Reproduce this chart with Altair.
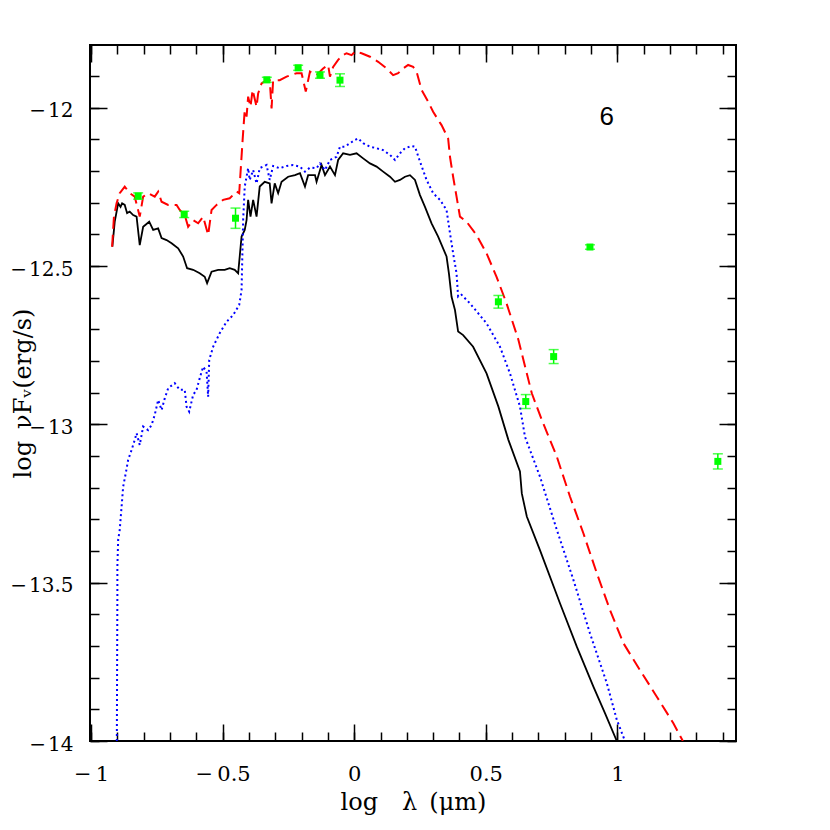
import altair as alt
import pandas as pd

# ---------------- data ----------------
# black solid model
blk_x = [-0.919, -0.910, -0.897, -0.888, -0.882, -0.872, -0.863, -0.853, -0.840, -0.827,
         -0.815, -0.802, -0.779, -0.764, -0.745, -0.732, -0.713, -0.694, -0.669, -0.650,
         -0.635, -0.612, -0.587, -0.568, -0.559, -0.542, -0.517, -0.492, -0.473, -0.454,
         -0.441, -0.428, -0.416, -0.409, -0.403, -0.394, -0.384, -0.371, -0.359, -0.340,
         -0.321, -0.314, -0.302, -0.289, -0.276, -0.251, -0.225, -0.206, -0.187, -0.175,
         -0.149, -0.143, -0.124, -0.111, -0.092, -0.073, -0.061, -0.042, -0.016, 0.009,
         0.034, 0.060, 0.085, 0.110, 0.136, 0.155, 0.174, 0.193, 0.212, 0.231,
         0.250, 0.269, 0.294, 0.319, 0.351, 0.360, 0.370, 0.383, 0.395, 0.414,
         0.452, 0.503, 0.548, 0.586, 0.630, 0.637, 0.656, 0.706, 0.782, 0.846,
         0.909, 0.953, 0.998]
blk_y = [-12.439, -12.360, -12.302, -12.313, -12.302, -12.307, -12.333, -12.328, -12.339, -12.344,
         -12.434, -12.376, -12.360, -12.386, -12.381, -12.412, -12.418, -12.428, -12.444, -12.470,
         -12.507, -12.512, -12.523, -12.534, -12.554, -12.518, -12.512, -12.512, -12.507, -12.512,
         -12.523, -12.407, -12.386, -12.355, -12.291, -12.344, -12.291, -12.344, -12.249, -12.234,
         -12.239, -12.302, -12.239, -12.270, -12.234, -12.218, -12.213, -12.207, -12.249, -12.213,
         -12.213, -12.234, -12.181, -12.213, -12.186, -12.213, -12.165, -12.144, -12.149, -12.144,
         -12.160, -12.176, -12.186, -12.202, -12.218, -12.234, -12.228, -12.218, -12.213, -12.228,
         -12.276, -12.313, -12.365, -12.407, -12.470, -12.523, -12.597, -12.639, -12.707, -12.718,
         -12.755, -12.839, -12.944, -13.049, -13.149, -13.218, -13.291, -13.397, -13.565, -13.702,
         -13.828, -13.912, -14.0]

# blue dotted model
blu_x = [-0.902, -0.900, -0.900, -0.897, -0.891, -0.884, -0.878, -0.868, -0.859, -0.846,
         -0.834, -0.827, -0.815, -0.802, -0.783, -0.770, -0.758, -0.745, -0.732, -0.720,
         -0.707, -0.682, -0.663, -0.644, -0.637, -0.627, -0.612, -0.599, -0.587, -0.574,
         -0.561, -0.555, -0.551, -0.536, -0.511, -0.485, -0.460, -0.437, -0.428, -0.422,
         -0.416, -0.403, -0.397, -0.384, -0.371, -0.359, -0.333, -0.321, -0.308, -0.283,
         -0.257, -0.232, -0.206, -0.187, -0.168, -0.143, -0.130, -0.111, -0.092, -0.067,
         -0.054, -0.035, -0.016, 0.003, 0.015, 0.034, 0.060, 0.085, 0.110, 0.136,
         0.155, 0.174, 0.193, 0.218, 0.231, 0.250, 0.275, 0.300, 0.326, 0.351,
         0.364, 0.376, 0.389, 0.395, 0.408, 0.440, 0.503, 0.554, 0.592, 0.630,
         0.649, 0.706, 0.770, 0.833, 0.896, 0.960, 0.998, 1.029]
blu_y = [-14.0, -13.544, -13.449, -13.365, -13.333, -13.260, -13.197, -13.154, -13.112, -13.081,
         -13.049, -13.028, -13.065, -13.007, -13.018, -13.002, -12.970, -12.923, -12.955, -12.918,
         -12.886, -12.870, -12.891, -12.891, -12.944, -12.960, -12.907, -12.891, -12.854, -12.818,
         -12.834, -12.913, -12.797, -12.755, -12.712, -12.676, -12.655, -12.623, -12.576, -12.355,
         -12.249, -12.191, -12.228, -12.197, -12.239, -12.191, -12.181, -12.228, -12.184, -12.191,
         -12.184, -12.181, -12.186, -12.202, -12.189, -12.191, -12.176, -12.197, -12.165, -12.155,
         -12.123, -12.123, -12.112, -12.102, -12.097, -12.112, -12.123, -12.128, -12.134, -12.149,
         -12.165, -12.144, -12.128, -12.121, -12.123, -12.170, -12.228, -12.270, -12.291, -12.323,
         -12.396, -12.460, -12.523, -12.597, -12.591, -12.618, -12.681, -12.755, -12.839, -12.944,
         -13.039, -13.165, -13.333, -13.491, -13.660, -13.817, -13.933, -14.0]

# red dashed model
red_x = [-0.920, -0.913, -0.903, -0.891, -0.872, -0.853, -0.834, -0.815, -0.802, -0.783,
         -0.758, -0.745, -0.732, -0.707, -0.675, -0.663, -0.644, -0.631, -0.612, -0.593,
         -0.574, -0.555, -0.542, -0.523, -0.498, -0.473, -0.447, -0.437, -0.424, -0.416,
         -0.409, -0.403, -0.394, -0.386, -0.371, -0.365, -0.352, -0.333, -0.321, -0.314,
         -0.308, -0.283, -0.257, -0.219, -0.200, -0.184, -0.168, -0.143, -0.118, -0.099,
         -0.092, -0.080, -0.061, -0.042, -0.029, -0.010, 0.003, 0.028, 0.060, 0.091,
         0.123, 0.148, 0.167, 0.186, 0.205, 0.224, 0.237, 0.256, 0.281, 0.300,
         0.332, 0.357, 0.364, 0.376, 0.389, 0.402, 0.427, 0.465, 0.503, 0.541,
         0.579, 0.624, 0.675, 0.713, 0.770, 0.820, 0.871, 0.922, 0.972, 1.023,
         1.086, 1.150, 1.213, 1.249]
red_y = [-12.439, -12.344, -12.302, -12.270, -12.249, -12.270, -12.281, -12.344, -12.281, -12.270,
         -12.281, -12.265, -12.297, -12.307, -12.307, -12.323, -12.339, -12.376, -12.355, -12.365,
         -12.344, -12.402, -12.323, -12.307, -12.291, -12.286, -12.265, -12.270, -12.102, -12.007,
         -12.028, -11.965, -11.997, -11.944, -11.997, -11.955, -11.923, -11.913, -11.913, -12.002,
         -11.913, -11.913, -11.902, -11.891, -11.891, -11.949, -11.886, -11.897, -11.876, -11.865,
         -11.902, -11.871, -11.849, -11.834, -11.828, -11.834, -11.823, -11.828, -11.839, -11.855,
         -11.876, -11.897, -11.891, -11.876, -11.865, -11.871, -11.886, -11.944, -11.981, -12.013,
         -12.055, -12.097, -12.155, -12.218, -12.281, -12.344, -12.360, -12.402, -12.460, -12.534,
         -12.618, -12.733, -12.902, -12.986, -13.102, -13.228, -13.344, -13.470, -13.586, -13.691,
         -13.776, -13.860, -13.944, -14.0]

# observed photometry (green squares with error bars)
obs_x = [-0.821, -0.646, -0.451, -0.332, -0.213, -0.130, -0.054, 0.548, 0.652, 0.758, 0.896, 1.382]
obs_y = [-12.279, -12.337, -12.349, -11.912, -11.874, -11.897, -11.913, -12.613, -12.928, -12.786, -12.440, -13.117]
obs_e = [0.010, 0.010, 0.032, 0.008, 0.008, 0.010, 0.020, 0.020, 0.022, 0.022, 0.007, 0.024]

panel_label = "6"
panel_x = [0.960]
panel_y = [-12.055]

x_major = [-1, -0.5, 0, 0.5, 1]
x_minor = [round(-1 + 0.1 * i, 1) for i in range(25)]
y_major = [-14, -13.5, -13, -12.5, -12]
y_minor = [round(-14 + 0.1 * i, 1) for i in range(22)]

x_domain = [-1.004, 1.451]
y_domain = [-14.0, -11.802]

# ---------------- tables ----------------
def curve(xs, ys):
    return pd.DataFrame({"x": xs, "y": ys, "i": list(range(len(xs)))})

df_blk = curve(blk_x, blk_y)
df_blu = curve(blu_x, blu_y)
df_red = curve(red_x, red_y)
df_obs = pd.DataFrame({"x": obs_x, "y": obs_y, "e": obs_e})
df_obs["lo"] = df_obs["y"] - df_obs["e"]
df_obs["hi"] = df_obs["y"] + df_obs["e"]
df_txt = pd.DataFrame({"x": panel_x, "y": panel_y, "t": [panel_label]})

SERIF = "DejaVu Serif"
X_LABEL_EXPR = "(datum.value < 0 ? '\u2212\u2009' : '') + format(abs(datum.value), '~g')"
Y_LABEL_EXPR = "(datum.value < 0 ? '\u2212\u200a' : '') + format(abs(datum.value), '~g')"


def xsc():
    return alt.Scale(domain=x_domain, nice=False, zero=False)


def ysc():
    return alt.Scale(domain=y_domain, nice=False, zero=False)


def tick_axis(orient, values, size):
    return alt.Axis(orient=orient, values=values, offset=-size, tickSize=size,
                    tickWidth=1.5, tickColor="black", labels=False, domain=False,
                    grid=False, title=None)


x_lab_axis = alt.Axis(orient="bottom", values=x_major, ticks=False, domain=False, grid=False,
                      labelExpr=X_LABEL_EXPR, labelFont=SERIF, labelFontSize=21,
                      labelColor="black", labelPadding=22, labelFlush=False,
                      labelOverlap=False,
                      title="log\u2003λ\u2002(μm)", titleFont=SERIF, titleFontSize=24,
                      titleFontWeight="normal", titleColor="black",
                      titleX=323, titleY=49, titleBaseline="top", titleAlign="center")

y_lab_axis = alt.Axis(orient="left", values=y_major, ticks=False, domain=False, grid=False,
                      labelExpr=Y_LABEL_EXPR, labelFont=SERIF, labelFontSize=20,
                      labelColor="black", labelPadding=17, labelOffset=3, labelFlush=False,
                      labelOverlap=False,
                      title="log\u2002νFᵥ(erg/s)", titleFont=SERIF, titleFontSize=24,
                      titleFontWeight="normal", titleColor="black",
                      titleX=-55, titleY=348, titleAngle=270, titleBaseline="bottom",
                      titleAlign="center")

black = alt.Chart(df_blk).mark_line(color="black", strokeWidth=1.8, clip=True).encode(
    x=alt.X("x:Q", scale=xsc(), axis=x_lab_axis),
    y=alt.Y("y:Q", scale=ysc(), axis=y_lab_axis),
    order=alt.Order("i:Q"),
)

blue = alt.Chart(df_blu).mark_line(color="#0000ff", strokeWidth=2, strokeDash=[2, 3],
                                   clip=True).encode(
    x=alt.X("x:Q", scale=xsc(), axis=tick_axis("bottom", x_major, 17)),
    y=alt.Y("y:Q", scale=ysc(), axis=tick_axis("left", y_major, 17)),
    order=alt.Order("i:Q"),
)

red = alt.Chart(df_red).mark_line(color="#ff0000", strokeWidth=2, strokeDash=[12, 6],
                                  clip=True).encode(
    x=alt.X("x:Q", scale=xsc(), axis=tick_axis("bottom", x_minor, 9)),
    y=alt.Y("y:Q", scale=ysc(), axis=tick_axis("left", y_minor, 9)),
    order=alt.Order("i:Q"),
)

bars = alt.Chart(df_obs).mark_rule(color="#00ff00", strokeWidth=1.5).encode(
    x=alt.X("x:Q", scale=xsc(), axis=tick_axis("top", x_minor, 9)),
    y=alt.Y("lo:Q", scale=ysc(), axis=tick_axis("right", y_minor, 9)),
    y2="hi:Q",
)

caps_lo = alt.Chart(df_obs).mark_tick(color="#00ff00", orient="horizontal", size=10,
                                      thickness=1.5).encode(
    x=alt.X("x:Q", scale=xsc(), axis=None),
    y=alt.Y("lo:Q", scale=ysc(), axis=None),
)
caps_hi = alt.Chart(df_obs).mark_tick(color="#00ff00", orient="horizontal", size=10,
                                      thickness=1.5).encode(
    x=alt.X("x:Q", scale=xsc(), axis=None),
    y=alt.Y("hi:Q", scale=ysc(), axis=None),
)

points = alt.Chart(df_obs).mark_point(shape="square", filled=True, size=49, opacity=1,
                                      color="#00ff00").encode(
    x=alt.X("x:Q", scale=xsc(), axis=tick_axis("top", x_major, 17)),
    y=alt.Y("y:Q", scale=ysc(), axis=tick_axis("right", y_major, 17)),
)

label = alt.Chart(df_txt).mark_text(font="Liberation Sans", fontSize=26, color="black",
                                    align="center", baseline="alphabetic").encode(
    x=alt.X("x:Q", scale=xsc(), axis=None),
    y=alt.Y("y:Q", scale=ysc(), axis=None),
    text="t:N",
)

chart = alt.layer(black, blue, red, bars, caps_lo, caps_hi, points, label).resolve_axis(
    x="independent", y="independent"
).properties(
    width=646, height=696,
    autosize=alt.AutoSizeParams(type="none"),
    padding={"left": 82, "top": 37, "right": 80, "bottom": 80},
    background="white",
).configure_view(stroke="black", strokeWidth=2)

chart.save("out.html", embed_options={"renderer": "svg", "actions": False})
